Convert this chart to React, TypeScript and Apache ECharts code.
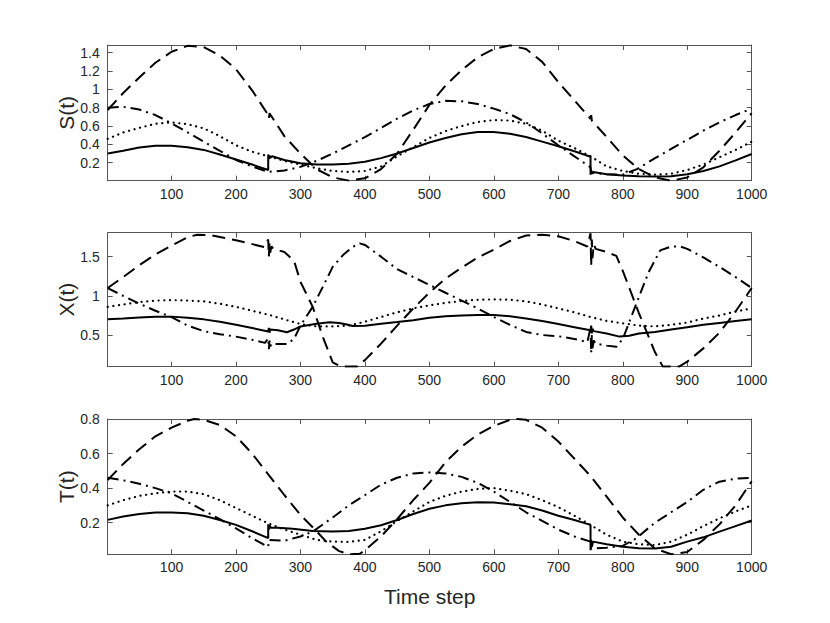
import React, { useEffect, useRef } from 'react';
import * as echarts from 'echarts';

type P = [number, number][];

const FONT = '"Liberation Sans", Arial, Helvetica, sans-serif';

const xTicks = [100, 200, 300, 400, 500, 600, 700, 800, 900, 1000];
const sTicks = [0.2, 0.4, 0.6, 0.8, 1, 1.2, 1.4];
const xPanelTicks = [0.5, 1, 1.5];
const tTicks = [0.2, 0.4, 0.6, 0.8];

// ---- S(t) ----
const sSolid: P = [[1,0.30],[25,0.33],[50,0.365],[75,0.385],[100,0.385],[125,0.37],[150,0.34],[175,0.29],[200,0.235],[225,0.18],[250,0.12],[250,0.29],[251,0.24],[252,0.28],[253,0.25],[256,0.27],[275,0.23],[300,0.195],[325,0.18],[350,0.18],[375,0.19],[400,0.21],[425,0.25],[450,0.30],[475,0.36],[500,0.42],[525,0.47],[550,0.51],[575,0.535],[600,0.535],[625,0.515],[650,0.48],[675,0.43],[700,0.38],[725,0.325],[750,0.265],[750,0.07],[751,0.12],[752,0.08],[754,0.10],[775,0.075],[800,0.06],[825,0.052],[850,0.05],[875,0.052],[900,0.075],[925,0.11],[950,0.16],[975,0.225],[1000,0.295]];
const sDotted: P = [[1,0.46],[25,0.53],[50,0.58],[75,0.625],[100,0.64],[125,0.62],[150,0.575],[175,0.49],[200,0.39],[225,0.32],[250,0.27],[275,0.22],[300,0.18],[325,0.14],[350,0.11],[375,0.10],[400,0.11],[425,0.16],[450,0.27],[475,0.37],[500,0.47],[525,0.545],[550,0.60],[575,0.645],[600,0.665],[625,0.66],[650,0.625],[675,0.55],[700,0.44],[725,0.36],[750,0.27],[775,0.16],[800,0.11],[825,0.08],[850,0.07],[875,0.08],[900,0.12],[925,0.18],[950,0.26],[975,0.34],[1000,0.43]];
const sDashed: P = [[1,0.775],[25,0.96],[50,1.13],[75,1.29],[100,1.41],[125,1.475],[150,1.46],[175,1.37],[200,1.22],[225,0.99],[250,0.72],[251,0.68],[252,0.74],[275,0.49],[300,0.30],[325,0.13],[350,0.04],[375,0.005],[400,0.03],[425,0.13],[450,0.30],[475,0.56],[500,0.83],[525,1.04],[550,1.21],[575,1.35],[600,1.44],[625,1.48],[650,1.44],[675,1.30],[700,1.08],[725,0.88],[750,0.68],[751,0.72],[752,0.66],[775,0.48],[800,0.28],[825,0.13],[850,0.04],[875,0.003],[900,0.04],[925,0.15],[950,0.33],[975,0.53],[1000,0.74]];
const sDashDot: P = [[1,0.80],[25,0.81],[50,0.78],[75,0.72],[100,0.63],[125,0.53],[150,0.43],[175,0.33],[200,0.23],[225,0.16],[250,0.10],[275,0.115],[300,0.155],[325,0.22],[350,0.30],[375,0.39],[400,0.48],[425,0.58],[450,0.68],[475,0.77],[500,0.84],[525,0.875],[550,0.87],[575,0.84],[600,0.79],[625,0.73],[650,0.64],[675,0.52],[700,0.39],[725,0.27],[750,0.15],[751,0.09],[775,0.075],[800,0.07],[822,0.13],[850,0.25],[875,0.35],[900,0.45],[925,0.55],[950,0.64],[975,0.72],[1000,0.79]];

// ---- X(t) ----
const xSolid: P = [[1,0.70],[25,0.71],[50,0.725],[75,0.735],[100,0.735],[125,0.72],[150,0.70],[175,0.67],[200,0.63],[225,0.59],[250,0.545],[251,0.59],[252,0.53],[253,0.57],[265,0.56],[279,0.535],[290,0.57],[300,0.61],[325,0.645],[345,0.662],[360,0.655],[372,0.635],[381,0.615],[400,0.62],[425,0.645],[450,0.665],[475,0.69],[500,0.72],[525,0.74],[550,0.75],[575,0.755],[600,0.755],[625,0.74],[650,0.71],[675,0.68],[700,0.64],[725,0.60],[750,0.56],[751,0.62],[752,0.52],[753,0.58],[755,0.55],[775,0.52],[795,0.48],[810,0.49],[825,0.52],[850,0.54],[875,0.57],[900,0.60],[925,0.63],[950,0.655],[975,0.68],[1000,0.70]];
const xDotted: P = [[1,0.86],[25,0.89],[50,0.92],[75,0.94],[100,0.945],[125,0.94],[150,0.93],[175,0.90],[200,0.86],[225,0.81],[250,0.76],[275,0.70],[300,0.64],[325,0.61],[350,0.61],[375,0.62],[400,0.67],[425,0.73],[450,0.79],[475,0.84],[500,0.88],[525,0.91],[550,0.935],[575,0.95],[600,0.955],[625,0.95],[650,0.93],[675,0.89],[700,0.84],[725,0.79],[750,0.73],[775,0.68],[800,0.65],[825,0.62],[850,0.61],[875,0.63],[900,0.66],[925,0.71],[950,0.75],[975,0.80],[1000,0.84]];
const xDashed: P = [[1,1.10],[25,1.24],[50,1.39],[75,1.53],[100,1.64],[125,1.75],[140,1.78],[160,1.775],[175,1.75],[200,1.71],[225,1.66],[245,1.62],[250,1.72],[251,1.50],[252,1.68],[253,1.55],[255,1.63],[258,1.60],[275,1.56],[290,1.45],[300,1.18],[319,0.86],[335,0.47],[350,0.15],[362,0.10],[388,0.10],[400,0.18],[425,0.39],[450,0.62],[475,0.84],[500,1.04],[525,1.22],[550,1.36],[575,1.49],[600,1.59],[625,1.70],[650,1.77],[675,1.78],[700,1.76],[725,1.70],[745,1.63],[750,1.80],[751,1.38],[752,1.72],[753,1.48],[755,1.66],[758,1.60],[775,1.56],[790,1.51],[800,1.32],[825,0.78],[850,0.28],[862,0.10],[888,0.10],[900,0.16],[925,0.33],[950,0.53],[975,0.80],[1000,1.10]];
const xDashDot: P = [[1,1.10],[25,1.00],[50,0.90],[75,0.81],[100,0.73],[125,0.62],[150,0.55],[175,0.51],[200,0.48],[225,0.44],[245,0.40],[250,0.46],[251,0.32],[252,0.43],[253,0.35],[255,0.39],[260,0.385],[279,0.385],[290,0.45],[300,0.62],[319,0.86],[335,1.12],[350,1.37],[366,1.52],[380,1.62],[392,1.67],[400,1.65],[425,1.50],[450,1.34],[475,1.24],[500,1.14],[525,1.04],[550,0.94],[575,0.84],[600,0.73],[625,0.63],[650,0.54],[675,0.50],[700,0.485],[725,0.45],[745,0.41],[750,0.59],[751,0.27],[752,0.50],[753,0.33],[755,0.43],[758,0.39],[775,0.365],[790,0.35],[800,0.45],[821,0.90],[840,1.30],[858,1.58],[875,1.63],[889,1.63],[900,1.60],[925,1.49],[950,1.37],[975,1.24],[1000,1.10]];

// ---- T(t) ----
const tSolid: P = [[1,0.216],[25,0.235],[50,0.25],[75,0.258],[100,0.258],[125,0.255],[150,0.24],[175,0.215],[200,0.187],[225,0.15],[250,0.11],[250,0.19],[251,0.16],[252,0.185],[254,0.17],[265,0.17],[288,0.165],[319,0.152],[350,0.148],[375,0.152],[400,0.165],[425,0.185],[450,0.215],[475,0.25],[500,0.28],[525,0.30],[550,0.312],[575,0.318],[600,0.316],[625,0.307],[650,0.295],[675,0.27],[700,0.24],[725,0.215],[750,0.187],[750,0.04],[751,0.10],[752,0.06],[754,0.09],[775,0.075],[800,0.06],[825,0.052],[850,0.05],[875,0.06],[900,0.09],[925,0.115],[950,0.148],[975,0.18],[1000,0.212]];
const tDotted: P = [[1,0.30],[25,0.33],[50,0.355],[75,0.37],[100,0.38],[125,0.38],[150,0.365],[175,0.33],[200,0.285],[225,0.24],[250,0.196],[275,0.16],[300,0.13],[325,0.10],[350,0.09],[375,0.088],[400,0.10],[425,0.15],[450,0.21],[475,0.265],[500,0.32],[525,0.355],[550,0.38],[575,0.395],[600,0.40],[625,0.385],[650,0.365],[675,0.33],[700,0.29],[725,0.24],[750,0.187],[775,0.13],[800,0.09],[825,0.075],[850,0.07],[875,0.09],[900,0.13],[925,0.18],[950,0.225],[975,0.265],[1000,0.30]];
const tDashed: P = [[1,0.447],[25,0.54],[50,0.625],[75,0.70],[100,0.75],[125,0.79],[135,0.80],[150,0.795],[175,0.765],[200,0.70],[225,0.60],[250,0.48],[275,0.36],[300,0.245],[325,0.15],[340,0.09],[360,0.035],[375,0.017],[392,0.02],[400,0.04],[425,0.12],[450,0.22],[475,0.33],[500,0.43],[525,0.55],[550,0.64],[575,0.71],[600,0.76],[625,0.795],[636,0.80],[650,0.795],[675,0.75],[700,0.67],[725,0.57],[750,0.47],[775,0.35],[800,0.23],[825,0.13],[850,0.05],[875,0.017],[900,0.03],[925,0.10],[950,0.19],[975,0.30],[1000,0.44]];
const tDashDot: P = [[1,0.46],[25,0.445],[50,0.425],[75,0.40],[100,0.37],[125,0.32],[150,0.27],[175,0.22],[200,0.167],[225,0.11],[250,0.06],[251,0.10],[275,0.095],[300,0.12],[319,0.148],[350,0.23],[375,0.30],[392,0.34],[425,0.42],[450,0.46],[475,0.485],[500,0.49],[525,0.485],[550,0.465],[575,0.43],[600,0.38],[625,0.32],[650,0.26],[675,0.21],[700,0.16],[725,0.12],[750,0.09],[751,0.05],[775,0.055],[800,0.065],[821,0.11],[850,0.20],[875,0.26],[900,0.32],[925,0.39],[950,0.437],[975,0.455],[1000,0.46]];

const panels = [
  { name: 'S(t)', min: 0.004, max: 1.484, ticks: sTicks, top: 45, height: 135.7, data: [sSolid, sDotted, sDashed, sDashDot] },
  { name: 'X(t)', min: 0.096, max: 1.806, ticks: xPanelTicks, top: 232.7, height: 134, data: [xSolid, xDotted, xDashed, xDashDot] },
  { name: 'T(t)', min: 0.0167, max: 0.8, ticks: tTicks, top: 419, height: 135.3, data: [tSolid, tDotted, tDashed, tDashDot] },
];

const AXIS_COLOR = '#555555';
const TEXT_COLOR = '#262626';

const lineStyles: any[] = [
  { color: '#000', width: 2, type: 'solid' },
  { color: '#000', width: 2.2, type: [0.1, 5.6], cap: 'round' },
  { color: '#000', width: 2, type: [13, 7] },
  { color: '#000', width: 2, type: [11, 5, 2, 5] },
];

export default function App() {
  const ref = useRef<HTMLDivElement>(null);
  useEffect(() => {
    if (!ref.current) return;
    const chart = echarts.init(ref.current, undefined, { renderer: 'svg' });
    const grid: any[] = [];
    const xAxis: any[] = [];
    const yAxis: any[] = [];
    const series: any[] = [];
    panels.forEach((p, i) => {
      grid.push({ left: 107.7, width: 644, top: p.top, height: p.height });
      const axLine = { show: true, onZero: false, lineStyle: { color: AXIS_COLOR, width: 1 } };
      const tick = (vals: number[]) => ({ show: true, inside: true, length: 5, customValues: vals, lineStyle: { color: AXIS_COLOR, width: 1 } });
      xAxis.push({
        gridIndex: i, type: 'value', position: 'bottom', min: 1, max: 1000,
        axisLine: axLine, axisTick: tick(xTicks), splitLine: { show: false },
        axisLabel: { customValues: xTicks, margin: 6, fontSize: 14, color: TEXT_COLOR, fontFamily: FONT, formatter: (v: number) => String(Math.round(v)) },
        ...(i === 2 ? { name: 'Time step', nameLocation: 'middle', nameGap: 32, nameMoveOverlap: false, nameTextStyle: { fontSize: 21, color: TEXT_COLOR, fontFamily: FONT } } : {}),
      });
      xAxis.push({
        gridIndex: i, type: 'value', position: 'top', min: 1, max: 1000,
        axisLine: axLine, axisTick: tick(xTicks), splitLine: { show: false }, axisLabel: { show: false },
      });
      yAxis.push({
        gridIndex: i, type: 'value', position: 'left', min: p.min, max: p.max,
        axisLine: axLine, axisTick: tick(p.ticks), splitLine: { show: false },
        axisLabel: { customValues: p.ticks, margin: 8, fontSize: 14, color: TEXT_COLOR, fontFamily: FONT, formatter: (v: number) => String(+v.toFixed(2)) },
        name: p.name, nameLocation: 'middle', nameRotate: 90, nameGap: 31, nameMoveOverlap: false,
        nameTextStyle: { fontSize: 21, color: TEXT_COLOR, fontFamily: FONT },
      });
      yAxis.push({
        gridIndex: i, type: 'value', position: 'right', min: p.min, max: p.max,
        axisLine: axLine, axisTick: tick(p.ticks), splitLine: { show: false }, axisLabel: { show: false },
      });
      p.data.forEach((d, k) => {
        series.push({
          type: 'line', xAxisIndex: i * 2, yAxisIndex: i * 2, data: d,
          showSymbol: false, symbol: 'none', lineStyle: lineStyles[k], clip: true, z: 2,
        });
      });
    });
    chart.setOption({
      animation: false,
      backgroundColor: '#ffffff',
      grid, xAxis, yAxis, series,
    });
    return () => chart.dispose();
  }, []);
  return <div ref={ref} style={{ position: 'absolute', left: 0, top: 0, width: 830, height: 623 }} />;
}
